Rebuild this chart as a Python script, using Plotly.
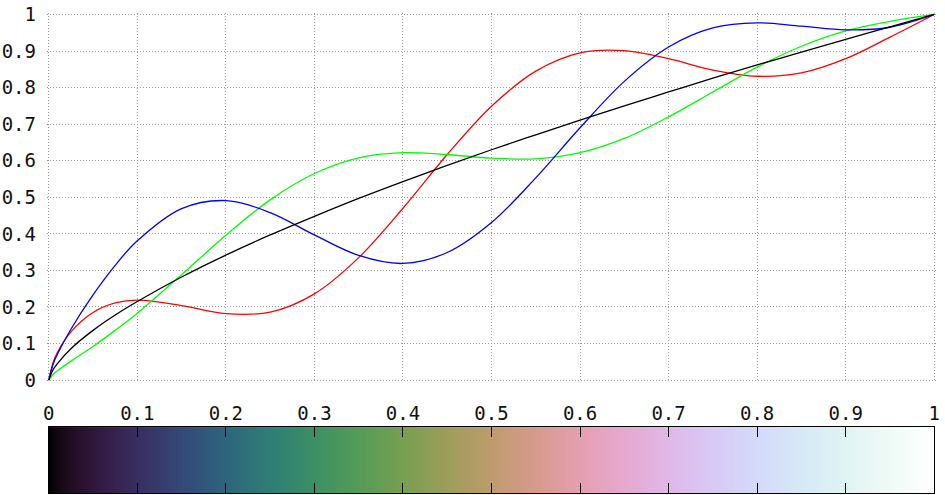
import plotly.graph_objects as go

# palette position (gray level input)
lam = [0, 0.005, 0.01, 0.025, 0.05, 0.075, 0.1, 0.15, 0.2, 0.25, 0.3, 0.35, 0.4,
       0.45, 0.5, 0.55, 0.6, 0.65, 0.7, 0.75, 0.8, 0.85, 0.9, 0.95, 1.0]

red = [0, 0.049, 0.077, 0.132, 0.185, 0.211, 0.219, 0.204, 0.182, 0.186, 0.236, 0.335, 0.470,
       0.617, 0.749, 0.845, 0.895, 0.901, 0.879, 0.848, 0.831, 0.840, 0.879, 0.938, 1.0]
green = [0, 0.016, 0.026, 0.052, 0.092, 0.136, 0.183, 0.288, 0.396, 0.493, 0.565, 0.608, 0.622,
         0.617, 0.607, 0.605, 0.622, 0.661, 0.720, 0.788, 0.856, 0.913, 0.955, 0.981, 1.0]
blue = [0, 0.044, 0.072, 0.139, 0.233, 0.314, 0.381, 0.469, 0.491, 0.458, 0.397, 0.341, 0.319,
        0.349, 0.431, 0.553, 0.690, 0.817, 0.911, 0.963, 0.977, 0.968, 0.958, 0.965, 1.0]
gray = [0, 0.029, 0.046, 0.086, 0.136, 0.178, 0.215, 0.282, 0.342, 0.397, 0.448, 0.497, 0.543,
        0.587, 0.630, 0.671, 0.711, 0.750, 0.788, 0.826, 0.862, 0.897, 0.932, 0.966, 1.0]

tick_vals = [0, 0.1, 0.2, 0.3, 0.4, 0.5, 0.6, 0.7, 0.8, 0.9, 1]
tick_text = ["0", "0.1", "0.2", "0.3", "0.4", "0.5", "0.6", "0.7", "0.8", "0.9", "1"]

FONT = "DejaVu Sans Mono"

def c255(v):
    return int(round(max(0, min(1, v)) * 255))

colorscale = [[l, f"rgb({c255(r)},{c255(g)},{c255(b)})"] for l, r, g, b in zip(lam, red, green, blue)]

fig = go.Figure()
for vals, col in [(red, "#ff0000"), (green, "#00ff00"), (blue, "#0000ff"), (gray, "#000000")]:
    fig.add_trace(go.Scatter(x=lam, y=vals, mode="lines", line=dict(color=col, width=1.3, shape="spline"),
                             showlegend=False, hoverinfo="skip", xaxis="x", yaxis="y", cliponaxis=False))

fig.add_trace(go.Heatmap(x=lam, y=[0, 1], z=[lam, lam], colorscale=colorscale, zmin=0, zmax=1,
                         zsmooth="best", showscale=False, xaxis="x2", yaxis="y2", hoverinfo="skip"))

grid = dict(showgrid=True, gridcolor="#999999", griddash="1px,2px", gridwidth=1)

# pixel layout: data x 0..1 -> 49..934 px, main y 0..1 -> 380..14 px, colour box 427..493 px
XPAD = 0.002
YPAD = 0.004
W, H = 945, 495
x0px, x1px = 49, 934
xunit = x1px - x0px
l_m = x0px - XPAD * xunit
plot_w = xunit * (1 + 2 * XPAD)
r_m = W - l_m - plot_w
yunit = 380 - 14
t_m = 14 - YPAD * yunit
b_m = 2
plot_h = H - t_m - b_m
main_bottom_px = 380 + YPAD * yunit
main_dom = [(H - b_m - main_bottom_px) / plot_h, 1]
cb_dom = [0, (493 - 427) / plot_h]
x2_dom = [(XPAD * xunit) / plot_w, (XPAD * xunit + xunit) / plot_w]

fig.update_layout(
    width=W, height=H,
    margin=dict(l=l_m, r=r_m, t=t_m, b=b_m, autoexpand=False),
    paper_bgcolor="white", plot_bgcolor="white",
    font=dict(family=FONT, size=19, color="#111111"),
    xaxis=dict(domain=[0, 1], range=[-XPAD, 1 + XPAD], tickvals=tick_vals, ticktext=tick_text,
               zeroline=False, showline=False, ticks="", ticklabelstandoff=18,
               anchor="y", automargin=False, **grid),
    yaxis=dict(domain=main_dom, range=[-YPAD, 1 + YPAD], tickvals=tick_vals, ticktext=tick_text,
               zeroline=False, showline=False, ticks="", ticklabelstandoff=10,
               anchor="x", automargin=False, **grid),
    xaxis2=dict(domain=x2_dom, range=[0, 1], tickvals=tick_vals, showticklabels=False,
                ticks="inside", ticklen=10, tickcolor="#000000", tickwidth=1,
                showline=True, linecolor="#000000", linewidth=1, mirror="ticks",
                showgrid=False, zeroline=False, anchor="y2", automargin=False),
    yaxis2=dict(domain=cb_dom, range=[0, 1], showticklabels=False, ticks="",
                showline=True, linecolor="#000000", linewidth=1, mirror=True,
                showgrid=False, zeroline=False, anchor="x2", automargin=False),
)

fig.write_html("out.html", config={"displayModeBar": False},
               post_script="document.body.style.margin='0px';document.body.style.overflow='hidden';")
